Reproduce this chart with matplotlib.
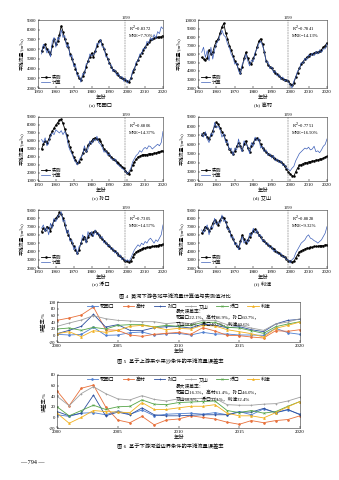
import numpy as np
import matplotlib
matplotlib.use('Agg')
from matplotlib import pyplot as plt

plt.rcParams['font.family'] = ['Liberation Serif', 'Noto Sans CJK SC']
plt.rcParams['axes.unicode_minus'] = False
plt.rcParams['axes.linewidth'] = 0.4


## data: bankfull discharge, measured (black) and computed (blue), 1952-2020
years = np.arange(1952, 2021)

hyk_obs = [5800, 6200, 6500, 6000, 5700, 5500, 6300, 7000,
           6500, 6800, 7500, 8400, 7800, 7000, 6600, 6200, 5500, 5000,
           4500, 4000, 3500, 3000, 2800, 3200, 3600, 4200, 4800, 5200,
           5600, 5200, 5800, 6300, 6800, 6900, 6500, 6000, 5500, 5000,
           4600, 4200, 3900, 3700, 3500, 3300, 3100, 3000, 2900, 2800,
           2700, 2600, 3000, 3600, 4000, 4500, 4900, 5300, 5600, 5900,
           6200, 6500, 6700, 6900, 7000, 7100, 7200, 7200, 7200, 7300, 7400]
hyk_cal = [5500, 6500, 6200, 5600, 6000, 5200, 6800, 7200,
           6200, 7200, 7000, 8000, 7200, 7400, 6200, 6500, 5200, 5400,
           4200, 4400, 3200, 3300, 2600, 3500, 3400, 4500, 4600, 5500,
           5300, 5500, 5600, 6600, 6500, 7000, 6200, 6200, 5200, 5200,
           4400, 4400, 3700, 3900, 3300, 3500, 3000, 3200, 2700, 3000,
           2500, 2800, 2900, 3800, 3900, 4700, 4800, 5500, 5500, 6100,
           6000, 6800, 6600, 7200, 6900, 7500, 7100, 7800, 7600, 8300, 8100]

gc_obs = [5600, 5400, 5300, 5500, 6500, 6000, 6200, 7000,
          7500, 7800, 8500, 9200, 9600, 8500, 7800, 7000, 6500, 5800,
          5200, 4800, 4200, 3800, 4500, 5500, 6200, 5500, 5000, 4800,
          5500, 6000, 6800, 7500, 7800, 7200, 6200, 5200, 4700, 4500,
          4300, 4000, 3800, 3600, 3400, 3200, 3100, 3000, 2900, 2800,
          2500, 2300, 2600, 3300, 3800, 4300, 4800, 5100, 5400, 5600,
          5800, 6000, 6000, 6100, 6200, 6200, 6300, 6500, 6800, 7000, 7300]
gc_cal = [6200, 6800, 5600, 6400, 5200, 6800, 5400, 6500,
          7200, 7600, 8200, 8800, 8200, 8000, 7200, 6800, 6000, 5600,
          4800, 5000, 4000, 3600, 4800, 5200, 6000, 5200, 4600, 5300,
          5100, 6200, 6600, 7200, 7500, 7000, 6300, 5000, 5100, 4300,
          4500, 3800, 4000, 3400, 3600, 3000, 3300, 2800, 3000, 2700,
          2400, 2000, 2800, 3200, 4000, 4200, 5000, 4900, 5500, 5300,
          5900, 5700, 6100, 5800, 6300, 6000, 6500, 6200, 6600, 6600, 7200]

sk_obs = [5000, 5600, 6000, 5800, 6200, 6800, 7200, 7600,
          8000, 8300, 8600, 8700, 8200, 7500, 6800, 6000, 5200, 4600,
          4000, 3600, 3300, 3400, 3800, 4500, 5000, 4800, 5500, 5800,
          6000, 6300, 6400, 6300, 6200, 6000, 5500, 5000, 4700, 4500,
          4200, 4000, 3800, 3600, 3400, 3200, 3000, 2800, 2600, 2300,
          2000, 1900, 2400, 3000, 3400, 3700, 4000, 4100, 4200, 4300,
          4300, 4300, 4400, 4400, 4400, 4500, 4500, 4600, 4600, 4700, 4800]
sk_cal = [6200, 5800, 6400, 5400, 5800, 6600, 7000, 6800,
          7400, 7200, 7000, 7300, 6800, 7200, 6600, 5400, 4800, 4400,
          3800, 3400, 3000, 3600, 4000, 4200, 5400, 4600, 5000, 6000,
          5600, 6200, 6000, 6600, 5800, 5600, 5200, 4600, 4800, 4200,
          4400, 3800, 3600, 3800, 3200, 3000, 2800, 2600, 2400, 2200,
          1900, 2200, 2600, 3400, 3800, 4200, 4400, 4800, 4600, 5000,
          5200, 5000, 5400, 5300, 5000, 5200, 5400, 5600, 5400, 5800, 7200]

as_obs = [7000, 7300, 7100, 6800, 6600, 7000, 7500, 8000,
          8400, 8200, 7800, 7400, 7000, 6500, 6000, 5500, 5200, 5000,
          5300, 5800, 6200, 5800, 5400, 6000, 6400, 5600, 5200, 5800,
          6200, 6600, 6700, 6500, 6000, 5600, 5400, 5200, 5000, 4800,
          4700, 4500, 4400, 4300, 4200, 4100, 3900, 3600, 3300, 3000,
          2800, 2600, 2500, 3000, 3400, 3700, 3800, 3900, 4000, 4000,
          4100, 4100, 4200, 4200, 4300, 4300, 4400, 4400, 4500, 4600, 4700]
as_cal = [7200, 6800, 7400, 6600, 6200, 7200, 7000, 8400,
          7800, 8000, 7600, 6800, 7200, 6200, 6400, 5400, 5600, 4800,
          5600, 5400, 6600, 5600, 5200, 6400, 6000, 5800, 5000, 6200,
          5800, 6800, 6400, 6700, 5600, 5800, 5200, 5400, 4800, 5000,
          4500, 4800, 4200, 4400, 4000, 4200, 3700, 3800, 3400, 3300,
          3100, 3400, 3600, 4200, 4600, 5000, 5200, 5400, 5600, 5500,
          5700, 5400, 5500, 5800, 5200, 5300, 5100, 5400, 5800, 6000, 6600]

lk_obs = [6400, 6800, 6600, 7000, 6800, 6500, 7200, 7800,
          8000, 8300, 8700, 8500, 8000, 7200, 6500, 6000, 5500, 5000,
          4600, 4200, 3800, 4200, 5000, 5500, 5800, 5200, 5800, 6200,
          6000, 6300, 6500, 6200, 6000, 5800, 5500, 5300, 5000, 4800,
          4600, 4400, 4200, 4000, 3800, 3600, 3400, 3200, 3000, 2900,
          2800, 2700, 2900, 3300, 3700, 3900, 4100, 4200, 4300, 4400,
          4400, 4500, 4500, 4500, 4600, 4600, 4700, 4700, 4800, 4800, 4900]
lk_cal = [6800, 7200, 6400, 6900, 6000, 7400, 6800, 8000,
          7600, 8200, 8400, 8800, 7600, 7800, 6200, 6600, 5200, 5400,
          4200, 4600, 3600, 4600, 4800, 6000, 5600, 5000, 6400, 5800,
          6400, 5800, 6600, 6000, 6200, 5600, 5800, 5000, 5200, 4600,
          4800, 4200, 4400, 3800, 4000, 3400, 3600, 3000, 3200, 2800,
          3000, 2800, 3200, 3700, 4200, 4500, 4800, 4600, 5000, 4800,
          5200, 5000, 5400, 5600, 5300, 5000, 5400, 5200, 5600, 6000, 7200]

lj_obs = [6200, 6600, 7000, 6800, 6500, 6800, 7400, 7800,
          7500, 7200, 7800, 8200, 8000, 7600, 7000, 6500, 6000, 5500,
          5000, 4600, 4400, 5200, 6000, 5500, 5000, 5400, 5800, 6200,
          6500, 6700, 6400, 6000, 5700, 5400, 5200, 5000, 4800, 4600,
          4400, 4300, 4100, 3900, 3800, 3600, 3500, 3300, 3100, 2900,
          2800, 2700, 2800, 3200, 3600, 3900, 4100, 4200, 4300, 4400,
          4400, 4500, 4500, 4600, 4600, 4600, 4700, 4700, 4700, 4800, 4800]
lj_cal = [6600, 6200, 6800, 7200, 6000, 7000, 6800, 8000,
          7200, 7600, 7400, 8400, 7600, 7800, 6600, 6800, 5600, 5800,
          4800, 5000, 4200, 5000, 5800, 5000, 5400, 5000, 6200, 5800,
          6800, 6200, 6600, 5800, 6000, 5200, 5400, 4800, 5000, 4400,
          4600, 4000, 4200, 3800, 3600, 3800, 3300, 3400, 3000, 3000,
          2600, 3000, 3200, 3800, 4200, 4600, 5000, 5200, 5400, 5800,
          6000, 5600, 5500, 5300, 5200, 5000, 5200, 5400, 5800, 6200, 7000]

panel_names = ['(a) 花园口', '(b) 高村', '(c) 孙口', '(d) 艾山', '(e) 泺口', '(f) 利津']
panel_obs = [hyk_obs, gc_obs, sk_obs, as_obs, lk_obs, lj_obs]
panel_cal = [hyk_cal, gc_cal, sk_cal, as_cal, lk_cal, lj_cal]
panel_ylim = [(2000, 9000), (2000, 10000), (1000, 9000), (2000, 9000), (2000, 9000), (2000, 9000)]
panel_r2 = ['0.8372', '0.7841', '0.6806', '0.7751', '0.7305', '0.8828']
panel_mre = ['7.70%', '14.13%', '14.37%', '16.50%', '14.57%', '9.32%']

## data: error rate of computed bankfull discharge, 2000-2020
err_years = np.arange(2000, 2021)
err_names = ['花园口', '高村', '孙口', '艾山', '泺口', '利津']

err5 = [
    [3, 1, 3, 24, 0, 1, 8, 10, 1, 5, 6, 1, 9, 4, 4, 1, 1, 0, 21, 8, 3],
    [45, 52, 61, 85, 17, 15, 1, -3, 3, 6, 9, 3, 23, 13, 0, -1, -5, -8, 14, 12, 17],
    [5, 15, 27, 63, 25, 32, 15, 14, 23, 26, 26, 22, 34, 30, 23, 26, 17, 11, 34, 45, 48],
    [27, 37, 46, 59, 50, 45, 43, 41, 41, 35, 39, 35, 45, 45, 32, 30, 22, 15, 34, 40, 50],
    [19, 22, 15, 24, 19, 30, 32, 32, 25, 30, 27, 30, 39, 39, 24, 22, 14, 6, 26, 34, 41],
    [5, 11, -4, 14, 9, 15, 27, 30, 25, 17, 21, 19, 30, 28, 17, 11, 5, -5, 21, 30, 40],
]
err6 = [
    [5, 2, 8, 9, 5, 12, 6, 14, 3, 6, 7, 8, 6, 9, 5, 11, 5, 16, 9, 14, 6],
    [50, 22, 55, 61, 20, -5, -10, 2, -14, -5, -3, 3, 0, -3, -9, -13, -6, -10, -6, -4, 3],
    [11, 3, 8, 42, 3, 10, 5, 18, 5, 3, 3, 4, 5, 5, 5, 10, 10, 17, 9, 15, 5],
    [40, 22, 45, 58, 45, 35, 33, 41, 34, 31, 35, 35, 36, 36, 24, 23, 23, 25, 26, 31, 38],
    [20, 3, 13, 23, 15, 20, 21, 33, 25, 24, 28, 29, 30, 31, 13, 9, 13, 8, 11, 21, 30],
    [8, -11, 0, 13, 11, 10, 9, 28, 15, 15, 18, 21, 21, 24, 8, 3, 3, -1, 9, 20, 30],
]
err5_note = '最大误差率：\n花园口22.1%，高村86.9%，孙口60.7%，\n艾山60.6%，泺口40.1%，利津40.6%'
err6_note = '最大误差率：\n花园口16.3%，高村61.4%，孙口46.0%，\n艾山60.5%，泺口33.1%，利津32.4%'

err_colors = ['#4f7fd0', '#e8703a', '#2d4f9e', '#a0a0a0', '#55a447', '#f2b01e']
err_markers = ['o', 'o', '+', '+', 'x', '^']


## figure setup (pixel boxes of a 339x480 page)
W, H = 339, 480
fig = plt.figure(figsize=(W / 100, H / 100), dpi=100)
fs = 3.8


def box(x0, y0, x1, y1):
    return [x0 / W, 1 - y1 / H, (x1 - x0) / W, (y1 - y0) / H]


def style(ax):
    ax.tick_params(direction='in', length=1.5, width=0.35, pad=1.2, labelsize=fs - 0.3)
    for s in ax.spines.values():
        s.set_color('#333333')


cols = [(38, 163), (198, 327)]
rows = [(20, 88), (117, 181), (210, 268)]

for i in range(6):
    x0, x1 = cols[i % 2]
    y0, y1 = rows[i // 2]
    ax = fig.add_axes(box(x0, y0, x1, y1))
    ax.plot(years, panel_obs[i], color='black', lw=0.6, marker='o', ms=0.8, label='实测')
    ax.plot(years, panel_cal[i], color='#3d5fb8', lw=0.5, label='计算')
    ax.axvline(1999, color='#555555', lw=0.35, ls='--')
    ax.set_xlim(1950, 2020)
    ax.set_ylim(*panel_ylim[i])
    ax.set_xticks(np.arange(1950, 2021, 10))
    ax.set_yticks(np.arange(panel_ylim[i][0], panel_ylim[i][1] + 1, 1000))
    style(ax)
    ax.text(1999, panel_ylim[i][1], '1999', fontsize=fs - 0.6, ha='center', va='bottom')
    ax.text(2001, panel_ylim[i][1] - (panel_ylim[i][1] - panel_ylim[i][0]) * 0.06,
            'R$^2$=' + panel_r2[i] + '\nMRE=' + panel_mre[i],
            fontsize=fs - 0.5, va='top', linespacing=1.3)
    ax.set_ylabel('平滩流量/(m³/s)', fontsize=fs - 0.3, labelpad=1.5)
    ax.set_xlabel('年份\n' + panel_names[i], fontsize=fs, labelpad=1.2, linespacing=1.5)
    ax.legend(loc='lower left', fontsize=fs - 0.4, frameon=False, handlelength=1.8,
              borderaxespad=0.3, labelspacing=0.2, handletextpad=0.4)

fig.text(175 / W, 1 - 296 / H, '图 4  黄河下游各站平滩流量计算值与实测值对比',
         fontsize=fs, ha='center', va='center')

for k, (errs, note, (y0, y1), ylim, cap, capy) in enumerate([
        (err5, err5_note, (302, 342), (-20, 100), '图 5  基于上游来水来沙条件的平滩流量误差率', 361),
        (err6, err6_note, (375, 428), (-20, 80), '图 6  基于下游河道边界条件的平滩流量误差率', 446)]):
    ax = fig.add_axes(box(57, y0, 300, y1))
    for j in range(6):
        ax.plot(err_years, errs[j], color=err_colors[j], lw=0.6, marker=err_markers[j],
                ms=1.3, mew=0.5, label=err_names[j])
    ax.set_xlim(2000, 2020)
    ax.set_ylim(*ylim)
    ax.set_xticks([2000, 2005, 2010, 2015, 2020])
    ax.set_yticks(np.arange(ylim[0], ylim[1] + 1, 20))
    style(ax)
    ax.set_ylabel('误差率/%', fontsize=fs - 0.3, labelpad=1.5)
    ax.set_xlabel('年份', fontsize=fs, labelpad=1.2)
    ax.legend(loc='upper center', ncol=6, fontsize=fs - 0.3, frameon=False,
              handlelength=2.4, columnspacing=1.6, borderaxespad=0.1, handletextpad=0.4)
    ax.text(0.49, 0.84, note, transform=ax.transAxes, fontsize=fs - 0.4, va='top',
            linespacing=1.35)
    fig.text(170 / W, 1 - capy / H, cap, fontsize=fs, ha='center', va='center')

fig.text(32 / W, 1 - 463 / H, '— 794 —', fontsize=fs + 0.6, ha='center', va='center')

fig.savefig('out.png', dpi=100)
